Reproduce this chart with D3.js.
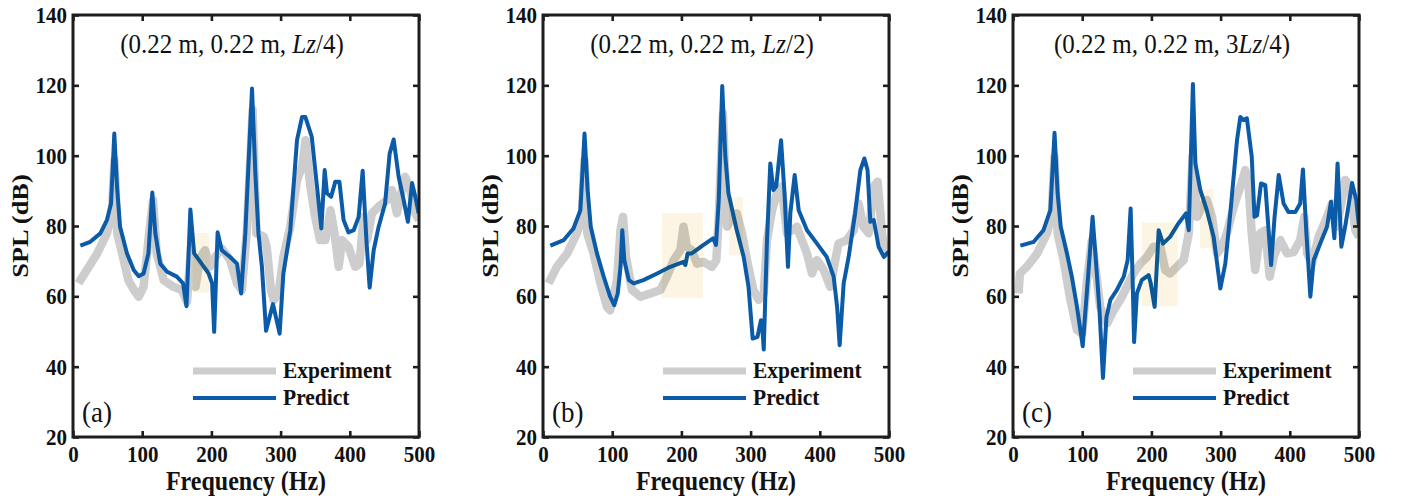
<!DOCTYPE html>
<html>
<head>
<meta charset="utf-8">
<script src="https://cdn.jsdelivr.net/npm/d3@7"></script>
<style>
  html, body { margin: 0; padding: 0; background: #fff; }
  svg { display: block; }
  text { font-family: "Liberation Serif", "Times New Roman", serif; fill: #111; }
  .bold { font-weight: bold; }
</style>
</head>
<body>
<div id="chart"></div>
<script>
// frequency (Hz), SPL (dB)
const expA = [[8,63.7],[20,67.5],[35,72.2],[49,77.9],[56,83.6],[60,98.7],[64,77.9],[71,72.2],[80,64.6],[88,61.8],[95,59.9],[102,62.7],[109,76],[115.6,87.4],[121,72.2],[131,64.6],[145,62.7],[157.5,61.8],[164.7,58.4],[170.5,74],[177,62.7],[184,71.2],[191,73.1],[198,68.4],[205.7,71.2],[215,73.6],[227,70.3],[237,63.7],[244,61.8],[251,77.9],[259.6,113],[265,77.9],[275.5,77],[280,74],[286,61.8],[290,58.9],[297,60.8],[304,71.2],[314,79.8],[323.7,93],[331,96.9],[336,104.4],[343,91.2],[350,82.6],[357,76],[364.6,76],[372,84.5],[378,77.9],[384,68.4],[388.7,76],[398,74.1],[408,68.4],[414,69.3],[420,82.6],[425,76],[432,83.6],[441.7,85.5],[453.8,87.4],[461,90.2],[468,83.6],[475.4,90.2],[480,94],[487.5,90.2],[494.7,83.6],[500,81.7]];
const predA = [[10.6,74.4],[25,75.5],[39.5,77.9],[49,81.7],[55,86.4],[59.7,106.3],[63.6,91.2],[68,79.8],[78,72.2],[87.7,67.5],[95,65.7],[102,66.5],[109,72.2],[114.6,89.5],[119,77.9],[126,69.3],[136,67],[150,65.6],[159,63.7],[164,57.2],[169.6,84.7],[175,72.2],[184,69.8],[196,66.5],[201,63.7],[204,49.9],[209,78.2],[215,73.1],[227,71.2],[237,69.3],[243,60.8],[249,77.9],[258.7,119.1],[263.5,95],[268,77.9],[273,68.4],[279,50.2],[289,57.8],[298.6,49.4],[304,66.5],[314,78.8],[323.7,104.4],[331,111],[335.7,111],[345,105.4],[352.6,91.2],[358.9,79.3],[363.7,95.9],[367,89.3],[373,88.3],[379,92.6],[385,92.6],[391,81.7],[398,78.2],[405.6,78.8],[412.8,82.6],[418.6,95.7],[424,76],[428.7,62.5],[434.5,73.1],[441.7,79.8],[451,86.4],[457.6,100.6],[463.4,104.6],[470.6,94],[477.8,87.4],[484,81.2],[490,92.2],[494.7,88.3],[499.5,83.6]];

const expB = [[8,63.7],[20,68.4],[35,72.2],[49,77.9],[56,82.6],[60,98.7],[64,77.9],[73,72.2],[83,63.7],[92.5,57],[97,56],[107,64.6],[112,78.8],[115.6,82.6],[120,71.2],[128.6,61.8],[140.7,59.9],[155,60.8],[169.6,61.8],[179,65.6],[188.8,70.3],[198.5,73.1],[203,79.8],[208,74.1],[215,73.1],[222.5,69.3],[232,69.8],[244,68.4],[250.5,70.3],[254,82.6],[260,112],[266,79.8],[273,82.6],[280,83.6],[287.6,77.9],[294.8,70.3],[304,61.8],[311.7,59],[319,60.8],[323.7,76],[331,84.5],[338,89.3],[345,91.2],[352.6,77.9],[360,78.8],[367,79.8],[374,76],[381.5,72.2],[388.7,66.5],[396,70.3],[405.6,67.5],[415,62.7],[422.4,70.3],[427,75],[439,76],[449,78.8],[456,86.4],[463,79.8],[470.6,77.9],[478,91.2],[483.6,92.6],[490,77.9],[494.7,72.2],[500,74.1]];
const predB = [[10.6,74.4],[30,76],[44,79.3],[54,84.5],[60,106.3],[64.5,90.2],[69,79.8],[78,72.2],[87.7,65.6],[97,59.9],[103,57.5],[108,60.8],[112,68.4],[114.6,78.8],[117.5,70.3],[124,64.6],[131,63.7],[145,64.6],[165,66.5],[184,68.4],[203,69.8],[205.7,68.9],[209,72.2],[215,72.2],[232,74.6],[245.7,76.5],[250,74.6],[254,87.4],[259,119.8],[263.5,99.7],[268,89.3],[280,78.8],[290,71.2],[297,62.7],[303,48],[310,48.5],[315,53.2],[317,50.9],[319,44.9],[323.7,76],[328.5,97.8],[333,90.2],[337,91.2],[344,104.4],[349,89.3],[354,68.4],[357.4,83.6],[363.7,94.5],[369.5,84.5],[381.5,78.8],[396,75],[410,71.2],[420,65.6],[425,57],[428.7,46.1],[434.5,63.7],[441.7,71.2],[451,83.6],[458.6,95.9],[464.4,99.2],[469,95.9],[473,81.2],[478,81.7],[485,74.1],[492.6,71.2],[499.5,72.7]];

const expC = [[8,60.8],[10,66.5],[20,68.4],[35,72.2],[49,77.9],[56,83.6],[60,99.7],[64.5,77.9],[73,70.3],[83,58.9],[92.5,50.4],[100,49.4],[107,64.6],[114,76],[119,68.4],[126,57],[136,52.3],[145.5,56],[157.5,59.9],[167,63.7],[174,66.5],[184,69.3],[193.6,71.2],[203,74.1],[213,74.1],[220,67.5],[227,66.5],[237,68.4],[246.6,70.3],[254,77.9],[259.6,100],[266,82.6],[273,85.5],[280,87.4],[287.6,82.6],[294.8,72.2],[302,74.1],[309,77.9],[319,85.5],[328.5,91.2],[335.7,95.9],[340.6,91.2],[345,77.9],[350,67.5],[357,77.9],[364.6,78.8],[371,65.6],[376.7,71.2],[386.3,76],[396,72.2],[405.6,72.6],[415,76],[421,82.6],[425,72.2],[432,69.3],[441.7,76.9],[453.8,82.6],[461,86.4],[468,79.8],[475.4,87.4],[480,93.1],[487.5,91.2],[494.7,78.8],[500,76.9]];
const predC = [[10.6,74.4],[30,75.5],[44,78.8],[54,84.5],[60,106.5],[64.5,89.3],[69,79.8],[78,72.2],[85,65.6],[92.5,57],[100.7,45.8],[107,61.8],[115,82.6],[119,72.2],[125,56],[130,36.8],[135,54],[140.7,59],[150,61.8],[160,65.6],[165.7,70.3],[170,85],[173,63.7],[175,47],[179,60.8],[186,64.6],[196,66],[199,63.7],[204.7,57],[210.5,78.8],[216.8,75],[227,76.9],[239,80.7],[250,83.6],[254,78.8],[260,120.4],[263.5,97.8],[270.7,90.2],[280,84.5],[290,76.9],[299.6,62.2],[306.8,69.3],[314,83.6],[323.7,104.4],[328.5,111],[333,110.1],[338,110.6],[345,99.7],[349,82.6],[352.6,83],[358.4,92.1],[364.6,91.6],[373,68.9],[378,82.6],[384,94.5],[391,86.4],[398,84],[408,84],[415,86.4],[419,96.1],[424,77.9],[429.7,59.9],[434.5,70.3],[444,75],[453.8,79.8],[459.5,86.9],[464.4,76.5],[469,97.8],[474.5,74.1],[480,79.8],[490,92.2],[496,87.4],[500,79.8]];

// highlighted frequency bands: [f0, f1, dB low, dB high]
const boxesA = [[173,197,61,78]];
const boxesB = [[172,231,59.5,83.7],[269,289,71.7,88.2]];
const boxesC = [[186,238,57.2,81],[270,290,73.7,90.5]];

const xTicks = [0, 100, 200, 300, 400, 500];
const yTicks = [20, 40, 60, 80, 100, 120, 140];
const posLabels = ["", "", "3"];
const zLabels = ["/4)", "/2)", "/4)"];
const panelTags = ["(a)", "(b)", "(c)"];
const seriesNames = ["Experiment", "Predict"];

const panels = [
   { exp: expA, pred: predA, boxes: boxesA },
   { exp: expB, pred: predB, boxes: boxesB },
   { exp: expC, pred: predC, boxes: boxesC }
];

// layout
const width = 1402;
const height = 496;
const panelStep = 470;
const plotLeft = 73;
const plotTop = 15;
const plotW = 346;
const plotH = 422;
const expColor = "#cdcdcd";
const predColor = "#0b5ba8";
const axisColor = "#1e1e1e";
const vScale = 1.1; // text in the figure is slightly taller than wide
const tickFont = 21;

const svg = d3.select("#chart")
   .append("svg")
   .attr("width", width)
   .attr("height", height);

const x = d3.scaleLinear().domain([0, 500]).range([0, plotW]);
const y = d3.scaleLinear().domain([20, 140]).range([plotH, 0]);

const line = d3.line()
   .x((d) => x(d[0]))
   .y((d) => y(d[1]));

svg.append("defs")
   .append("clipPath")
   .attr("id", "plot-clip")
   .append("rect")
   .attr("width", plotW)
   .attr("height", plotH);

panels.forEach((p, i) => {
   const panel = svg.append("g")
      .attr("transform", `translate(${i * panelStep}, 0)`);
   const chart = panel.append("g")
      .attr("transform", `translate(${plotLeft}, ${plotTop})`);

   const plot = chart.append("g").attr("clip-path", "url(#plot-clip)");

   plot.append("path")
      .datum(p.exp)
      .attr("fill", "none")
      .attr("stroke", expColor)
      .attr("stroke-width", 8.5)
      .attr("stroke-linejoin", "round")
      .attr("d", line);

   plot.append("path")
      .datum(p.pred)
      .attr("fill", "none")
      .attr("stroke", predColor)
      .attr("stroke-width", 4)
      .attr("stroke-linejoin", "round")
      .attr("d", line);

   // pale bands laid over the curves
   plot.selectAll("rect.band")
      .data(p.boxes)
      .enter()
      .append("rect")
      .attr("class", "band")
      .attr("x", (d) => x(d[0]))
      .attr("y", (d) => y(d[3]))
      .attr("width", (d) => x(d[1]) - x(d[0]))
      .attr("height", (d) => y(d[2]) - y(d[3]))
      .attr("fill", "#fdf5e3")
      .style("mix-blend-mode", "multiply");

   // axes, ticks pointing inward on all four sides
   const xAxisG = chart.append("g")
      .attr("transform", `translate(0, ${plotH})`)
      .call(d3.axisBottom(x).tickValues(xTicks).tickSize(-6).tickSizeOuter(0));
   const yAxisG = chart.append("g")
      .call(d3.axisLeft(y).tickValues(yTicks).tickSize(-6).tickSizeOuter(0));
   const topG = chart.append("g")
      .call(d3.axisTop(x).tickValues(xTicks).tickSize(-6).tickSizeOuter(0));
   const rightG = chart.append("g")
      .attr("transform", `translate(${plotW}, 0)`)
      .call(d3.axisRight(y).tickValues(yTicks).tickSize(-6).tickSizeOuter(0));

   [xAxisG, yAxisG, topG, rightG].forEach((g) => {
      g.select(".domain").remove();
      g.selectAll(".tick line").attr("stroke", axisColor).attr("stroke-width", 2.6);
   });
   [topG, rightG].forEach((g) => g.selectAll(".tick text").remove());

   xAxisG.selectAll(".tick text")
      .attr("class", "bold")
      .attr("y", null)
      .attr("dy", null)
      .attr("fill", axisColor)
      .attr("font-size", tickFont)
      .attr("transform", `translate(0, 25) scale(1, ${vScale})`);
   xAxisG.attr("font-size", null).attr("font-family", null);

   yAxisG.selectAll(".tick text")
      .attr("class", "bold")
      .attr("x", null)
      .attr("dy", "0.33em")
      .attr("fill", axisColor)
      .attr("font-size", tickFont)
      .attr("text-anchor", "end")
      .attr("transform", `translate(-6, 0) scale(1, ${vScale})`);
   yAxisG.attr("font-size", null).attr("font-family", null);

   chart.append("rect")
      .attr("width", plotW)
      .attr("height", plotH)
      .attr("fill", "none")
      .attr("stroke", axisColor)
      .attr("stroke-width", 3);

   // position caption
   const cap = chart.append("text")
      .attr("text-anchor", "middle")
      .attr("font-size", 25)
      .attr("transform", `translate(159, 38) scale(1, ${vScale})`);
   cap.append("tspan").text(`(0.22 m, 0.22 m, ${posLabels[i]}`);
   cap.append("tspan").attr("font-style", "italic").text("Lz");
   cap.append("tspan").text(zLabels[i]);

   // panel tag
   chart.append("text")
      .attr("font-size", 27)
      .attr("transform", `translate(9, 407) scale(1, ${vScale})`)
      .text(panelTags[i]);

   // legend
   const legend = chart.append("g").attr("transform", "translate(120, 356)");
   legend.append("line")
      .attr("x1", 0).attr("x2", 83)
      .attr("stroke", expColor).attr("stroke-width", 7);
   legend.append("line")
      .attr("x1", 0).attr("x2", 83)
      .attr("y1", 27).attr("y2", 27)
      .attr("stroke", predColor).attr("stroke-width", 4);
   legend.selectAll("text")
      .data(seriesNames)
      .enter()
      .append("text")
      .attr("class", "bold")
      .attr("font-size", 21.5)
      .attr("transform", (d, k) => `translate(90, ${7 + k * 27}) scale(1, ${vScale * 0.97})`)
      .text((d) => d);

   // axis titles
   panel.append("text")
      .attr("class", "bold")
      .attr("text-anchor", "middle")
      .attr("font-size", 24)
      .attr("transform", `translate(${plotLeft + plotW / 2}, 490) scale(1, ${vScale})`)
      .text("Frequency (Hz)");
   panel.append("text")
      .attr("class", "bold")
      .attr("text-anchor", "middle")
      .attr("font-size", 24)
      .attr("transform", `translate(28, ${plotTop + plotH / 2}) rotate(-90) scale(${vScale}, 1)`)
      .text("SPL (dB)");
});
</script>
</body>
</html>
